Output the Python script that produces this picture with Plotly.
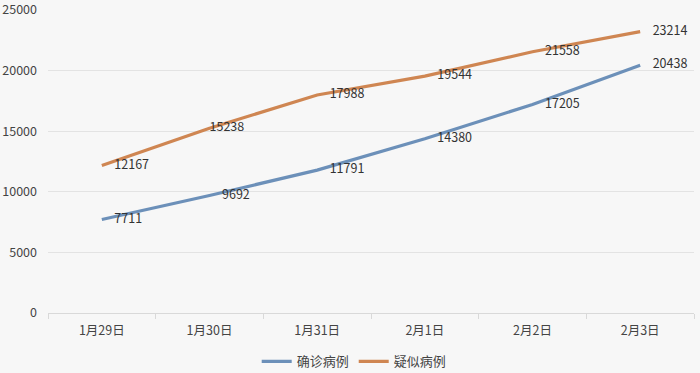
import plotly.graph_objects as go

dates = ["1月29日", "1月30日", "1月31日", "2月1日", "2月2日", "2月3日"]
confirmed = [7711, 9692, 11791, 14380, 17205, 20438]
suspected = [12167, 15238, 17988, 19544, 21558, 23214]
y_ticks = [0, 5000, 10000, 15000, 20000, 25000]

font_family = "Noto Sans CJK SC, Open Sans, sans-serif"
blue = "#6c90b9"
orange = "#cf8652"

pad = "\u2002\u2002"

fig = go.Figure()
fig.add_trace(go.Scatter(
    x=dates, y=confirmed, name="确诊病例", mode="lines+text",
    line=dict(color=blue, width=3.2),
    text=[pad + str(v) for v in confirmed], textposition="middle right",
    textfont=dict(size=12.5, color="#333333", family=font_family),
    cliponaxis=False,
))
fig.add_trace(go.Scatter(
    x=dates, y=suspected, name="疑似病例", mode="lines+text",
    line=dict(color=orange, width=3.2),
    text=[(pad if i != 1 else "") + str(v) for i, v in enumerate(suspected)],
    textposition="middle right",
    textfont=dict(size=12.5, color="#333333", family=font_family),
    cliponaxis=False,
))

fig.update_layout(
    width=700, height=373,
    margin=dict(l=48, r=6, t=10, b=60, autoexpand=False),
    paper_bgcolor="#f7f7f7", plot_bgcolor="#f7f7f7",
    font=dict(family=font_family, size=12.5, color="#444444"),
    showlegend=True,
    legend=dict(orientation="h", x=0.474, xanchor="center", y=-0.11, yanchor="top",
                font=dict(size=13, color="#444444"), itemwidth=30),
    xaxis=dict(type="category", range=[-0.5, 5.5], showgrid=False, ticks="outside",
               ticklen=5, tickcolor="#d9d9d9", showline=True, linecolor="#d9d9d9",
               tickson="boundaries", tickfont=dict(size=12.5), ticklabelstandoff=6,
               automargin=False, ticklabeloverflow="allow"),
    yaxis=dict(range=[0, 25000], tickvals=y_ticks, tickformat="d", showgrid=True,
               gridcolor="#e3e3e3", zeroline=False, tickfont=dict(size=12.5),
               ticklabelstandoff=10, automargin=False, ticklabeloverflow="allow"),
)

fig.write_html("out.html",
               config={"displayModeBar": False},
               post_script="document.body.style.margin='0';document.body.style.background='#f7f7f7';")
